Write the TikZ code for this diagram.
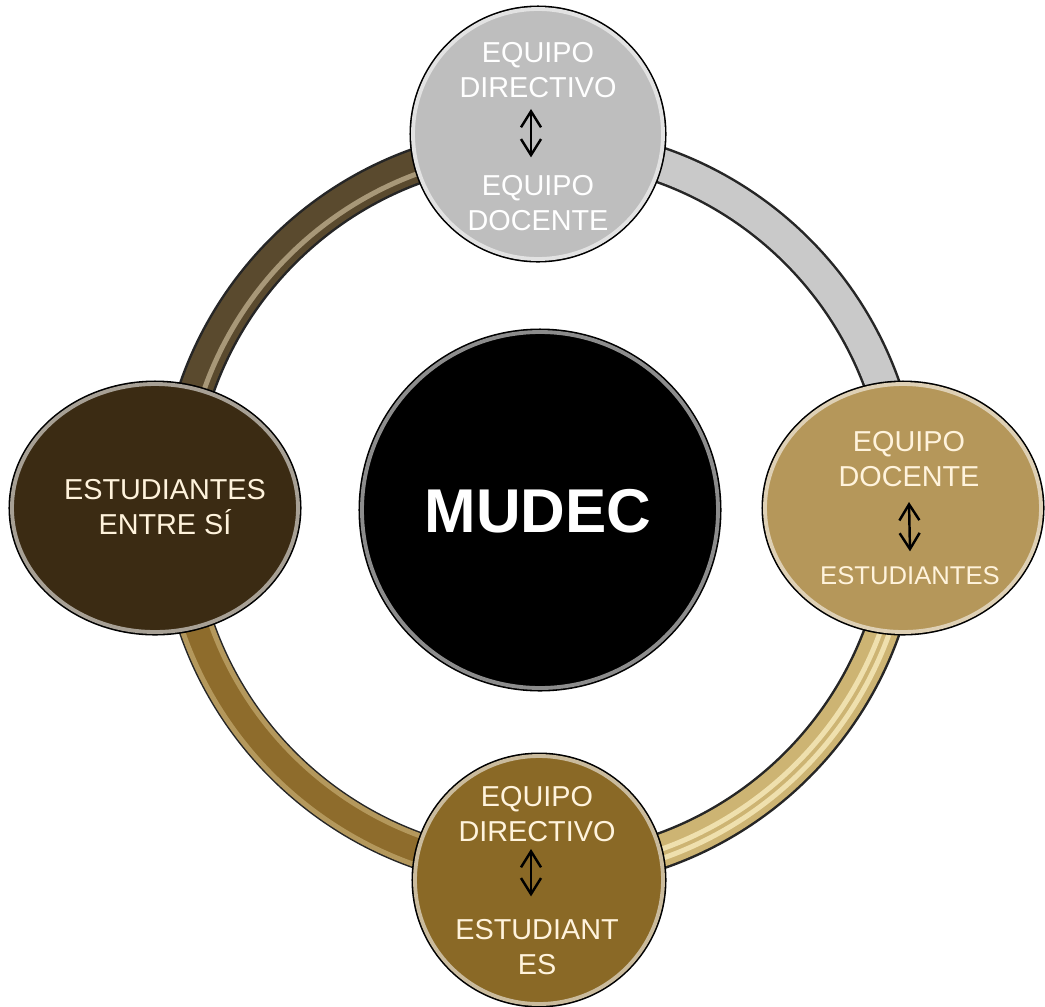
\documentclass[tikz,border=0pt]{standalone}
\usepackage{fontspec}
\setmainfont{Liberation Sans}
\usetikzlibrary{shapes.geometric,arrows.meta}
\definecolor{gris}{HTML}{BEBEBE}
\definecolor{dorado}{HTML}{B5975A}
\definecolor{bronce}{HTML}{8A6926}
\definecolor{cafe}{HTML}{3B2B13}
\definecolor{crema}{HTML}{FFF3DC}
\definecolor{cafeAro}{HTML}{5A4A2E}
\definecolor{cafeBrillo}{HTML}{A89878}
\definecolor{grisAro}{HTML}{C9C9C9}
\definecolor{doradoAro}{HTML}{CDB473}
\definecolor{doradoBrillo}{HTML}{EFE0AE}
\definecolor{bronceAro}{HTML}{8E6C2C}
\definecolor{bronceBrillo}{HTML}{B4985C}

\begin{document}
\begin{tikzpicture}
\tikzset{burbuja/.style={circle, fill=#1, draw=#1!45!white, line width=1.1pt, preaction={draw=black, line width=2pt}, inner sep=0pt},
  texto/.style={text=#1, font=\fontsize{8.2}{9.9}\selectfont, align=center, inner sep=0pt, anchor=base},
  aro/.style={line width=0.37cm, draw=black!85, postaction={draw=#1, line width=0.32cm}},
  brillo/.style={draw=#1, line width=0.05cm},
  ida/.style={{Straight Barb[length=1.6mm,width=2mm]}-{Straight Barb[length=1.6mm,width=2mm]}, line width=0.7pt}}
\useasboundingbox (0,0) rectangle (10.45,10.06);
\coordinate (centro) at (5.40,4.98);
% aro
\draw[aro=cafeAro] (centro) ++(90:3.635) arc[start angle=90, end angle=180, radius=3.635];
\draw[brillo=cafeBrillo] (centro) ++(90:3.56) arc[start angle=90, end angle=180, radius=3.56];
\draw[aro=grisAro] (centro) ++(0:3.635) arc[start angle=0, end angle=90, radius=3.635];
\draw[aro=doradoAro] (centro) ++(0:3.635) arc[start angle=0, end angle=-90, radius=3.635];
\draw[brillo=doradoBrillo] (centro) ++(0:3.62) arc[start angle=0, end angle=-90, radius=3.62];
\draw[brillo=doradoBrillo] (centro) ++(0:3.71) arc[start angle=0, end angle=-90, radius=3.71];
\draw[aro=bronceAro] (centro) ++(180:3.635) arc[start angle=180, end angle=270, radius=3.635];
\draw[brillo=bronceBrillo] (centro) ++(180:3.49) arc[start angle=180, end angle=270, radius=3.49];
\draw[brillo=bronceBrillo] (centro) ++(180:3.78) arc[start angle=180, end angle=270, radius=3.78];
% burbujas
\node[burbuja=gris, minimum size=2.5cm] (dirdoc) at (5.38,8.72) {};
\node[burbuja=dorado, ellipse, minimum width=2.76cm, minimum height=2.48cm] (docest) at (9.03,4.98) {};
\node[burbuja=bronce, minimum size=2.48cm] (direst) at (5.39,1.26) {};
\node[burbuja=cafe, ellipse, minimum width=2.86cm, minimum height=2.48cm] (estest) at (1.55,4.98) {};
\node[burbuja=black, minimum size=3.56cm] (mudec) at (5.40,4.96) {};
% textos
\node[texto=white] (dirdocA) at (5.38,9.09) {EQUIPO\\DIRECTIVO};
\node[texto=white] (dirdocB) at (5.38,7.76) {EQUIPO\\DOCENTE};
\node[texto=crema] (docestA) at (9.09,5.20) {EQUIPO\\DOCENTE};
\node[texto=crema, font=\fontsize{7.3}{9}\selectfont] (docestB) at (9.10,4.22) {ESTUDIANTES};
\node[texto=crema] (direstA) at (5.37,1.65) {EQUIPO\\DIRECTIVO};
\node[texto=crema] (direstB) at (5.37,0.32) {ESTUDIANT\\ES};
\node[texto=crema] (estestT) at (1.65,4.72) {ESTUDIANTES\\ENTRE SÍ};
\node[texto=white, font=\bfseries\fontsize{17.6}{20}\selectfont] (mudecT) at (5.38,4.74) {MUDEC};
% flechas
\draw[ida] ([xshift=-0.07cm,yshift=-0.11cm]dirdocA.south) -- ([xshift=-0.07cm,yshift=0.17cm]dirdocB.north);
\draw[ida] ([yshift=-0.15cm]docestA.south) -- ([yshift=0.14cm]docestB.north);
\draw[ida] ([xshift=-0.06cm,yshift=-0.07cm]direstA.south) -- ([xshift=-0.06cm,yshift=0.22cm]direstB.north);
\end{tikzpicture}
\end{document}
